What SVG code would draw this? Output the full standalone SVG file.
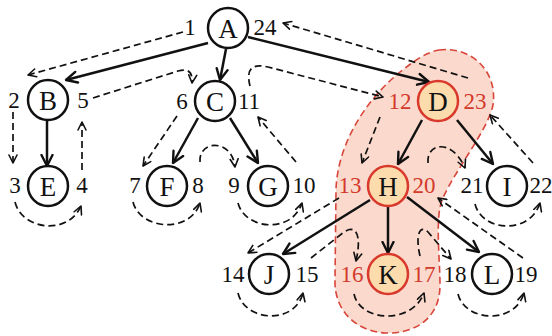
<svg xmlns="http://www.w3.org/2000/svg" width="552" height="336" viewBox="0 0 552 336">
<defs>
<marker id="ah" viewBox="0 0 14 14" refX="12.5" refY="7" markerWidth="14" markerHeight="14" markerUnits="userSpaceOnUse" orient="auto">
<path d="M1.5,1.5 L12.5,7 L1.5,12.5" fill="none" stroke="#111" stroke-width="2.4" stroke-linecap="round" stroke-linejoin="round"/>
</marker>
<marker id="dh" viewBox="0 0 10 10" refX="9" refY="5" markerWidth="10" markerHeight="10" markerUnits="userSpaceOnUse" orient="auto">
<path d="M1,1 L9,5 L1,9" fill="none" stroke="#111" stroke-width="1.6" stroke-linecap="round" stroke-linejoin="round"/>
</marker>
<style>
text{font-family:'Liberation Serif','Times New Roman',Times,'DejaVu Serif',serif}
.n circle{fill:#fff;stroke:#111;stroke-width:2.5}
.n.hl circle{fill:#fcdcac;stroke:#d8392c}
.n text{font-size:27px;fill:#111;text-anchor:middle}
.lb{font-size:23px;fill:#111;text-anchor:middle}
.lb.r{fill:#d23a2b}
.e{fill:none;stroke:#111;stroke-width:2.5;marker-end:url(#ah)}
.t{fill:none;stroke:#111;stroke-width:1.7;stroke-dasharray:7 4;marker-end:url(#dh)}
</style>
</defs>
<rect width="552" height="336" fill="#fff"/>
<path id="region" d="M439 50 C470 46,498 70,493 105 C488 130,455 170,442 200 C435 218,440 260,440 285 C440 322,410 334,386 333 C358 332,334 312,335 280 L336 190 C337 150,360 105,400 72 C415 60,427 52,439 50 Z" fill="#fbd9cd" stroke="#d8453a" stroke-width="1.6" stroke-dasharray="7 4"/>
<g id="edges">
<path class="e" d="M208 43 L66 80"/>
<path class="e" d="M226 49 L220 80"/>
<path class="e" d="M248 37 L429 82"/>
<path class="e" d="M47 121 L47 166"/>
<path class="e" d="M198 118 L173 163"/>
<path class="e" d="M230 118 L258 163"/>
<path class="e" d="M422 120 L398 164"/>
<path class="e" d="M457 120 L493 164"/>
<path class="e" d="M370 200 L283 254"/>
<path class="e" d="M388 206 L388 253"/>
<path class="e" d="M407 197 L479 252"/>
</g>
<g id="traversal">
<path class="t" d="M183 32 L28 75"/>
<path class="t" d="M13 112 L13 163"/>
<path class="t" d="M15 202 C22 230,68 236,81 206"/>
<path class="t" d="M82 170 L82 122"/>
<path class="t" d="M93 98 L178 71 C188 68,193 72,192 83"/>
<path class="t" d="M177 116 L143 166"/>
<path class="t" d="M133 202 C140 230,190 234,200 203"/>
<path class="t" d="M200 162 C198 140,232 138,235 167"/>
<path class="t" d="M238 203 C245 230,292 234,302 203"/>
<path class="t" d="M296 162 L258 117"/>
<path class="t" d="M250 86 C245 66,255 64,268 67 L383 97"/>
<path class="t" d="M380 117 L362 163"/>
<path class="t" d="M339 198 L248 253"/>
<path class="t" d="M238 293 C245 322,295 325,303 293"/>
<path class="t" d="M311 258 L344 232 C356 224,362 235,356 261"/>
<path class="t" d="M354 294 C360 322,412 325,424 293"/>
<path class="t" d="M420 256 C415 235,420 224,428 232 L451 259"/>
<path class="t" d="M458 294 C465 322,515 325,524 293"/>
<path class="t" d="M523 258 L438 198"/>
<path class="t" d="M428 163 C426 143,452 138,465 168"/>
<path class="t" d="M475 204 C482 232,530 235,540 203"/>
<path class="t" d="M533 163 L490 115"/>
<path class="t" d="M468 78 L283 23"/>
</g>
<g id="nodes">
<g id="nA" class="n"><circle cx="228" cy="28" r="20"/><text x="228" y="37.5">A</text></g>
<g id="nB" class="n"><circle cx="48" cy="100" r="20"/><text x="48" y="109.5">B</text></g>
<g id="nC" class="n"><circle cx="215" cy="101" r="20"/><text x="215" y="110.5">C</text></g>
<g id="nD" class="n hl"><circle cx="438" cy="101" r="20"/><text x="438" y="110.5">D</text></g>
<g id="nE" class="n"><circle cx="48" cy="186" r="20"/><text x="48" y="195.5">E</text></g>
<g id="nF" class="n"><circle cx="167" cy="186" r="20"/><text x="167" y="195.5">F</text></g>
<g id="nG" class="n"><circle cx="268" cy="186" r="20"/><text x="268" y="195.5">G</text></g>
<g id="nH" class="n hl"><circle cx="388" cy="186" r="20"/><text x="388" y="195.5">H</text></g>
<g id="nI" class="n"><circle cx="507" cy="186" r="20"/><text x="507" y="195.5">I</text></g>
<g id="nJ" class="n"><circle cx="269" cy="274" r="20"/><text x="269" y="283.5">J</text></g>
<g id="nK" class="n hl"><circle cx="388" cy="274" r="20"/><text x="388" y="283.5">K</text></g>
<g id="nL" class="n"><circle cx="492" cy="274" r="20"/><text x="492" y="283.5">L</text></g>
</g>
<g id="labels">
<text class="lb" x="190" y="35">1</text>
<text class="lb" x="265" y="35">24</text>
<text class="lb" x="14" y="108">2</text>
<text class="lb" x="83" y="108">5</text>
<text class="lb" x="182" y="109">6</text>
<text class="lb" x="249" y="109">11</text>
<text class="lb r" x="400" y="109">12</text>
<text class="lb r" x="475" y="109">23</text>
<text class="lb" x="15" y="193">3</text>
<text class="lb" x="82" y="193">4</text>
<text class="lb" x="135" y="193">7</text>
<text class="lb" x="198" y="193">8</text>
<text class="lb" x="234" y="193">9</text>
<text class="lb" x="304" y="193">10</text>
<text class="lb r" x="350" y="193">13</text>
<text class="lb r" x="424" y="193">20</text>
<text class="lb" x="472" y="193">21</text>
<text class="lb" x="541" y="193">22</text>
<text class="lb" x="233" y="282">14</text>
<text class="lb" x="307" y="282">15</text>
<text class="lb r" x="352" y="282">16</text>
<text class="lb r" x="424" y="282">17</text>
<text class="lb" x="455" y="282">18</text>
<text class="lb" x="526" y="282">19</text>
</g>
</svg>
